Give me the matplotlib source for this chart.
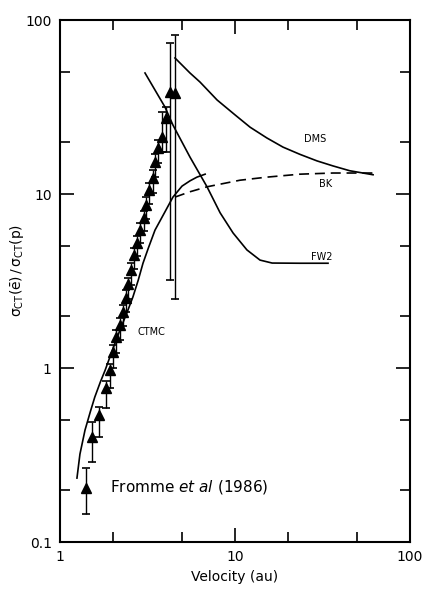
import numpy as np
import matplotlib
matplotlib.use("Agg")
import matplotlib.pyplot as plt
from matplotlib.ticker import FixedLocator, NullFormatter

# Fromme et al (1986) ratio measurements
vel = [1.41, 1.53, 1.67, 1.82, 1.92, 2.02, 2.10, 2.19, 2.28, 2.37, 2.46, 2.56, 2.66,
       2.76, 2.87, 3.01, 3.12, 3.22, 3.38, 3.50, 3.64, 3.83, 4.03, 4.27, 4.56]
ratio = [0.205, 0.40, 0.54, 0.77, 0.97, 1.24, 1.51, 1.77, 2.10, 2.53, 3.04, 3.66, 4.46,
         5.2, 6.2, 7.3, 8.6, 10.5, 12.4, 15.3, 18.4, 21.3, 27.4, 38.6, 38.0]
ratio_lo = [0.145, 0.29, 0.40, 0.59, 0.77, 1.00, 1.22, 1.45, 1.75, 2.1, 2.5, 3.0, 3.7,
            4.4, 5.2, 6.1, 7.2, 8.8, 10.2, 12.5, 15.0, 17.4, 17.5, 3.2, 2.5]
ratio_hi = [0.265, 0.49, 0.60, 0.84, 1.05, 1.35, 1.65, 1.95, 2.30, 2.8, 3.3, 4.0, 4.9,
            5.7, 6.8, 8.0, 9.6, 11.6, 13.8, 17.0, 20.5, 29.5, 31.5, 74.0, 82.0]

# theory curves
ctmc_v = [1.25, 1.30, 1.39, 1.49, 1.58, 1.70, 1.81, 2.00, 2.20, 2.40, 2.61, 2.80, 2.98,
          3.20, 3.49, 3.98, 4.42, 4.98, 5.53, 6.06, 6.75]
ctmc_r = [0.233, 0.32, 0.44, 0.56, 0.68, 0.83, 0.97, 1.28, 1.65, 2.05, 2.56, 3.2, 4.0,
          4.9, 6.2, 7.9, 9.6, 11.1, 11.9, 12.5, 13.0]

fw2_v = [3.06, 3.98, 4.42, 5.53, 6.92, 8.22, 9.75, 11.7, 13.9, 16.3, 23.5, 34.0]
fw2_r = [49.6, 31.6, 24.9, 16.3, 11.0, 7.8, 5.97, 4.77, 4.17, 4.01, 4.0, 4.0]

dms_v = [4.54, 5.53, 6.31, 7.9, 10.0, 12.2, 15.2, 18.8, 23.5, 29.4, 36.3, 45.3, 61.5]
dms_r = [60.5, 49.6, 44.0, 34.7, 28.5, 24.2, 21.0, 18.6, 16.9, 15.5, 14.5, 13.6, 12.9]

bk_v = [4.54, 5.53, 6.92, 10.67, 15.2, 23.5, 36.3, 61.5]
bk_r = [9.6, 10.3, 11.0, 12.0, 12.5, 13.0, 13.2, 13.2]

fig = plt.figure(figsize=(4.22, 5.90), dpi=100)
ax = fig.add_axes([60 / 422, 48 / 590, 350 / 422, 522 / 590])

ax.plot(ctmc_v, ctmc_r, color="black", lw=1.2)
ax.plot(fw2_v, fw2_r, color="black", lw=1.2)
ax.plot(dms_v, dms_r, color="black", lw=1.2)
ax.plot(bk_v, bk_r, color="black", lw=1.2, dashes=(6, 3.5))

yerr = [np.array(ratio) - np.array(ratio_lo), np.array(ratio_hi) - np.array(ratio)]
ax.errorbar(vel, ratio, yerr=yerr, fmt="^", color="black", ms=6.5,
            elinewidth=1.0, capsize=3, capthick=1.2)

ax.set_xscale("log")
ax.set_yscale("log")
ax.set_xlim(1, 100)
ax.set_ylim(0.1, 100)

ax.xaxis.set_major_locator(FixedLocator([1, 10, 100]))
ax.xaxis.set_minor_locator(FixedLocator([2, 5, 20, 50]))
ax.yaxis.set_major_locator(FixedLocator([0.1, 1, 10, 100]))
ax.yaxis.set_minor_locator(FixedLocator([0.2, 0.5, 2, 5, 20, 50]))
ax.set_xticklabels(["1", "10", "100"])
ax.set_yticklabels(["0.1", "1", "10", "100"])
ax.xaxis.set_minor_formatter(NullFormatter())
ax.yaxis.set_minor_formatter(NullFormatter())

ax.tick_params(which="both", direction="in", top=True, right=True, labelsize=10, width=1.2)
ax.tick_params(which="major", length=10, pad=6)
ax.tick_params(which="minor", length=7)
for sp in ax.spines.values():
    sp.set_linewidth(1.5)

ax.set_xlabel("Velocity (au)", fontsize=10, labelpad=4)
ax.set_ylabel(r"$\mathrm{\sigma_{CT}(\bar{e})\,/\,\sigma_{CT}(p)}$", fontsize=10)
ax.yaxis.set_label_coords(-0.097, 0.52)

ax.text(28.7, 20.7, "DMS", fontsize=7, ha="center", va="center")
ax.text(33.1, 11.4, "BK", fontsize=7, ha="center", va="center")
ax.text(31.4, 4.34, "FW2", fontsize=7, ha="center", va="center")
ax.text(3.31, 1.61, "CTMC", fontsize=7, ha="center", va="center")
ax.text(0.143, 0.105, r"Fromme $\mathit{et\ al}$ (1986)", transform=ax.transAxes,
        fontsize=11, ha="left", va="center")

fig.savefig("out.png", dpi=100)
